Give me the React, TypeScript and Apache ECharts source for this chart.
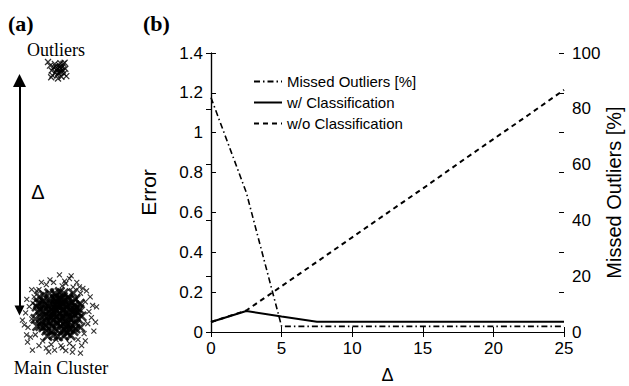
import React, { useEffect, useRef } from "react";
import * as echarts from "echarts";

// ---- Panel (b) data ----
const deltaValues = [0, 2.5, 5, 7.5, 10, 12.5, 15, 17.5, 20, 22.5, 25];
const missedOutliersPct = [84, 50, 2, 2, 2, 2, 2, 2, 2, 2, 2];
const errorWithClassification = [0.05, 0.105, 0.078, 0.052, 0.052, 0.052, 0.052, 0.052, 0.052, 0.052, 0.052];
const errorWithoutClassification = [0.05, 0.108, 0.23, 0.352, 0.475, 0.598, 0.72, 0.845, 0.968, 1.09, 1.215];

const seriesNames = ["Missed Outliers [%]", "w/ Classification", "w/o Classification"];

// ---- Panel (a) illustration data (arbitrary units, main cluster at 0, outliers at delta) ----
const illustrationDelta = 10;
const outlierOffsets = [
  [-0.43, 0.33], [-0.05, 0.05], [0.1, -0.05], [-0.12, -0.1], [0.15, 0.12], [0.02, 0.2], [-0.2, 0.1],
  [0.22, -0.15], [-0.05, -0.22], [0.28, 0.05], [-0.28, -0.02], [0.08, 0.28], [-0.15, 0.25], [0.2, 0.25],
  [-0.25, -0.22], [0.12, -0.28], [-0.02, -0.35], [0.32, -0.25], [-0.35, 0.18], [0.05, 0.12], [-0.08, 0.0],
  [0.18, -0.02], [0.0, -0.12], [-0.3, -0.3], [0.25, 0.3], [0.1, 0.05], [-0.12, 0.15], [0.05, -0.08],
];
const mainHalo = [
  [0.04, 1.6], [0.52, 1.56], [0.86, 1.11], [1.56, 0.29], [1.52, -0.33], [-1.48, -0.25], [-1.31, -0.86],
  [-1.27, -1.15], [-1.07, -1.48], [-0.16, -1.48], [0.57, -1.56], [0.9, -1.6], [0.16, -1.39],
  [-1.2, 0.3], [-1.1, -0.2], [-1.25, -0.55], [-1.0, 0.7], [-0.8, 1.0], [-0.5, 1.2], [-0.2, 1.3],
  [0.3, 1.25], [0.6, 1.1], [0.9, 0.85], [1.1, 0.5], [1.25, 0.1], [1.2, -0.4], [1.05, -0.8], [0.8, -1.05],
  [0.45, -1.2], [0.1, -1.3], [-0.3, -1.25], [-0.65, -1.1], [-0.95, -0.85], [-1.35, 0.05], [-0.9, 0.95],
  [-0.35, 1.4], [0.15, 1.15], [0.75, 1.3], [1.3, 0.7], [1.35, -0.15], [1.1, -1.1], [0.6, -1.35],
  [-0.1, -1.05], [-0.5, -1.4], [-1.15, -0.95], [-1.4, -0.45], [-1.05, 0.45], [-0.7, 1.3], [0.45, 1.45],
  [1.0, 1.05], [1.4, 0.35], [0.95, -1.3], [-0.8, -1.3], [-1.3, 0.6], [1.45, -0.7], [0.3, -1.5],
  [-0.4, -1.55], [1.15, 0.95], [-1.1, 1.0], [0.25, 1.35],
];
const mainCore = [
  [0.05, 0.02], [-0.12, 0.18], [0.21, -0.09], [-0.3, -0.15], [0.34, 0.27], [-0.05, -0.38], [0.12, 0.45],
  [-0.42, 0.31], [0.48, -0.22], [-0.25, -0.5], [0.55, 0.1], [-0.58, -0.05], [0.02, 0.6], [0.3, -0.55],
  [-0.35, 0.62], [0.66, 0.35], [-0.68, -0.32], [0.15, -0.7], [-0.1, 0.75], [0.72, -0.4], [-0.75, 0.2],
  [0.4, 0.7], [-0.5, -0.68], [0.8, 0.05], [-0.82, 0.45], [0.22, 0.85], [-0.2, -0.86], [0.62, -0.7],
  [-0.6, 0.78], [0.88, 0.42], [-0.88, -0.5], [0.5, -0.88], [0.0, -0.2], [0.18, 0.15], [-0.18, -0.02],
  [0.08, -0.28], [-0.08, 0.35], [0.38, 0.02], [-0.4, 0.08], [0.28, -0.32], [-0.22, 0.42], [0.25, 0.55],
  [-0.48, -0.3], [0.52, -0.45], [-0.3, -0.7], [0.7, 0.6], [-0.65, 0.55], [0.1, -0.5], [-0.05, 0.5],
  [0.45, 0.4], [-0.55, 0.35], [0.6, -0.15], [-0.72, -0.15], [0.35, -0.78], [-0.38, 0.85], [0.8, -0.2],
  [-0.85, 0.1], [0.05, 0.9], [-0.02, -0.92], [0.9, -0.55], [-0.15, 0.6], [0.65, 0.0], [-0.28, 0.22],
  [0.4, -0.12], [-0.62, -0.55], [0.18, 0.7], [0.75, 0.25], [-0.78, 0.7], [0.3, 0.35], [-0.12, -0.62],
  [-0.95, -0.2], [0.95, -0.1], [-0.45, -0.9], [0.6, 0.85], [-0.9, 0.3], [0.12, 0.3], [-0.32, -0.35],
  [0.5, 0.22], [-0.18, -0.25], [0.35, -0.42], [-0.6, 0.12], [0.0, 0.4], [0.22, -0.9],
  [-0.7, 0.4], [0.7, -0.6], [-0.2, 0.1], [0.15, -0.15], [0.42, 0.58], [-0.52, -0.48], [0.28, 0.08],
  [-0.08, -0.1], [0.58, 0.48], [-0.42, -0.12], [0.02, 0.25], [0.25, -0.65], [-0.35, 0.45], [0.68, 0.15],
  [-0.15, 0.85], [0.45, -0.6], [-0.75, -0.5], [0.85, 0.2], [-0.3, 0.0], [0.1, 0.62],
];
const arrowSpan = [0.14, 9.57];
const arrowX = -1.6;

const SANS = '"Liberation Sans", Arial, sans-serif';
const SERIF = '"Liberation Serif", "Times New Roman", serif';
const X_SYMBOL = "path://M0 0L10 10M10 0L0 10";

export default function App() {
  const ref = useRef<HTMLDivElement>(null);
  useEffect(() => {
    if (!ref.current) return;
    const chart = echarts.init(ref.current, null, { renderer: "svg" });
    const pairs = (ys: number[]) => deltaValues.map((x, i) => [x, ys[i]]);
    const option: any = {
      animation: false,
      backgroundColor: "#fff",
      grid: [
        { left: 211, right: 65, top: 53, bottom: 54, outerBoundsMode: "none", containLabel: false },
        { left: 0, width: 117, top: 21.2, height: 341.6, outerBoundsMode: "none", containLabel: false },
      ],
      legend: {
        data: seriesNames,
        orient: "vertical",
        left: 248,
        top: 69,
        itemWidth: 28,
        itemHeight: 14,
        itemGap: 6,
        itemStyle: { opacity: 0 },
        textStyle: { fontFamily: SANS, fontSize: 15, color: "#000" },
        selectedMode: false,
      },
      xAxis: [
        {
          gridIndex: 0, type: "value", min: 0, max: 25, interval: 5, position: "bottom",
          name: "Δ", nameLocation: "middle", nameGap: 34,
          nameTextStyle: { fontFamily: SANS, fontSize: 18, color: "#000" },
          axisLine: { show: true, lineStyle: { color: "#000", width: 1.2 } },
          axisTick: { show: true, inside: true, length: 5, lineStyle: { color: "#000" } },
          axisLabel: { fontFamily: SANS, fontSize: 17, color: "#000", margin: 8 },
          splitLine: { show: false },
        },
        {
          gridIndex: 0, type: "value", min: 0, max: 25, interval: 5, position: "top",
          axisLine: { show: true, lineStyle: { color: "#000", width: 1.2 } },
          axisTick: { show: true, inside: true, length: 5, lineStyle: { color: "#000" } },
          axisLabel: { show: false },
          splitLine: { show: false },
        },
        { gridIndex: 1, type: "value", min: -2.4, max: 2.4, show: false },
      ],
      yAxis: [
        {
          gridIndex: 0, type: "value", min: 0, max: 1.4, interval: 0.2, position: "left",
          name: "Error", nameLocation: "middle", nameRotate: 90, nameGap: 52,
          nameTextStyle: { fontFamily: SANS, fontSize: 21, color: "#000" },
          axisLine: { show: true, lineStyle: { color: "#000", width: 1.2 } },
          axisTick: { show: true, inside: true, length: 5, lineStyle: { color: "#000" } },
          axisLabel: { fontFamily: SANS, fontSize: 17, color: "#000", margin: 8 },
          splitLine: { show: false },
        },
        {
          gridIndex: 0, type: "value", min: 0, max: 100, interval: 20, position: "right",
          name: "Missed Outliers [%]", nameLocation: "middle", nameRotate: 90, nameGap: 40,
          nameMoveOverlap: false,
          nameTextStyle: { fontFamily: SANS, fontSize: 20, color: "#000" },
          axisLine: { show: true, lineStyle: { color: "#000", width: 1.2 } },
          axisTick: { show: true, inside: true, length: 5, lineStyle: { color: "#000" } },
          axisLabel: { fontFamily: SANS, fontSize: 17, color: "#000", margin: 8 },
          splitLine: { show: false },
        },
        {
          gridIndex: 0, type: "value", min: 0, max: 1.4, interval: 0.2, position: "right", offset: 0,
          axisLine: { show: false },
          axisTick: { show: true, inside: true, length: 5, lineStyle: { color: "#000" } },
          axisLabel: { show: false },
          splitLine: { show: false },
        },
        { gridIndex: 1, type: "value", min: -2, max: 12, show: false },
      ],
      series: [
        {
          name: seriesNames[2], type: "line", xAxisIndex: 0, yAxisIndex: 0,
          data: pairs(errorWithoutClassification), symbol: "none", silent: true,
          lineStyle: { color: "#000", width: 2, type: [5, 4] },
          itemStyle: { color: "#000" },
        },
        {
          name: seriesNames[0], type: "line", xAxisIndex: 0, yAxisIndex: 1,
          data: pairs(missedOutliersPct), symbol: "none", silent: true,
          lineStyle: { color: "#000", width: 1.6, type: [6, 3, 1.5, 3] },
          itemStyle: { color: "#000" },
        },
        {
          name: seriesNames[1], type: "line", xAxisIndex: 0, yAxisIndex: 0,
          data: pairs(errorWithClassification), symbol: "none", silent: true,
          lineStyle: { color: "#000", width: 2, type: "solid" },
          itemStyle: { color: "#000" },
        },
        {
          type: "scatter", xAxisIndex: 2, yAxisIndex: 3, silent: true,
          data: mainHalo, symbol: X_SYMBOL, symbolSize: 5,
          itemStyle: { color: "none", borderColor: "#000", borderWidth: 1.1 },
        },
        {
          type: "scatter", xAxisIndex: 2, yAxisIndex: 3, silent: true,
          data: mainCore, symbol: X_SYMBOL, symbolSize: 9,
          itemStyle: { color: "none", borderColor: "#000", borderWidth: 2.6 },
        },
        {
          type: "scatter", xAxisIndex: 2, yAxisIndex: 3, silent: true,
          data: outlierOffsets.map(([x, y]) => [x, y + illustrationDelta]),
          symbol: X_SYMBOL, symbolSize: 6,
          itemStyle: { color: "none", borderColor: "#000", borderWidth: 1.3 },
        },
        {
          type: "lines", coordinateSystem: "cartesian2d", xAxisIndex: 2, yAxisIndex: 3, silent: true,
          symbol: ["triangle", "triangle"], symbolSize: [10, 13],
          lineStyle: { color: "#000", width: 2, opacity: 1 },
          data: [{ coords: [[arrowX, arrowSpan[0]], [arrowX, arrowSpan[1]]] }],
        },
      ],
      graphic: [
        { type: "text", x: 8, y: 23, style: { text: "(a)", font: `bold 22px ${SERIF}`, fill: "#000", verticalAlign: "middle" } },
        { type: "text", x: 143, y: 23, style: { text: "(b)", font: `bold 22px ${SERIF}`, fill: "#000", verticalAlign: "middle" } },
        { type: "text", x: 56, y: 50, style: { text: "Outliers", font: `18px ${SERIF}`, fill: "#000", align: "center", verticalAlign: "middle" } },
        { type: "text", x: 61, y: 368, style: { text: "Main Cluster", font: `18px ${SERIF}`, fill: "#000", align: "center", verticalAlign: "middle" } },
        { type: "text", x: 38, y: 192, style: { text: "Δ", font: `20px ${SANS}`, fill: "#000", align: "center", verticalAlign: "middle" } },
      ],
    };
    chart.setOption(option);
    return () => chart.dispose();
  }, []);
  return <div ref={ref} style={{ position: "absolute", left: 0, top: 0, width: 629, height: 386 }} />;
}
